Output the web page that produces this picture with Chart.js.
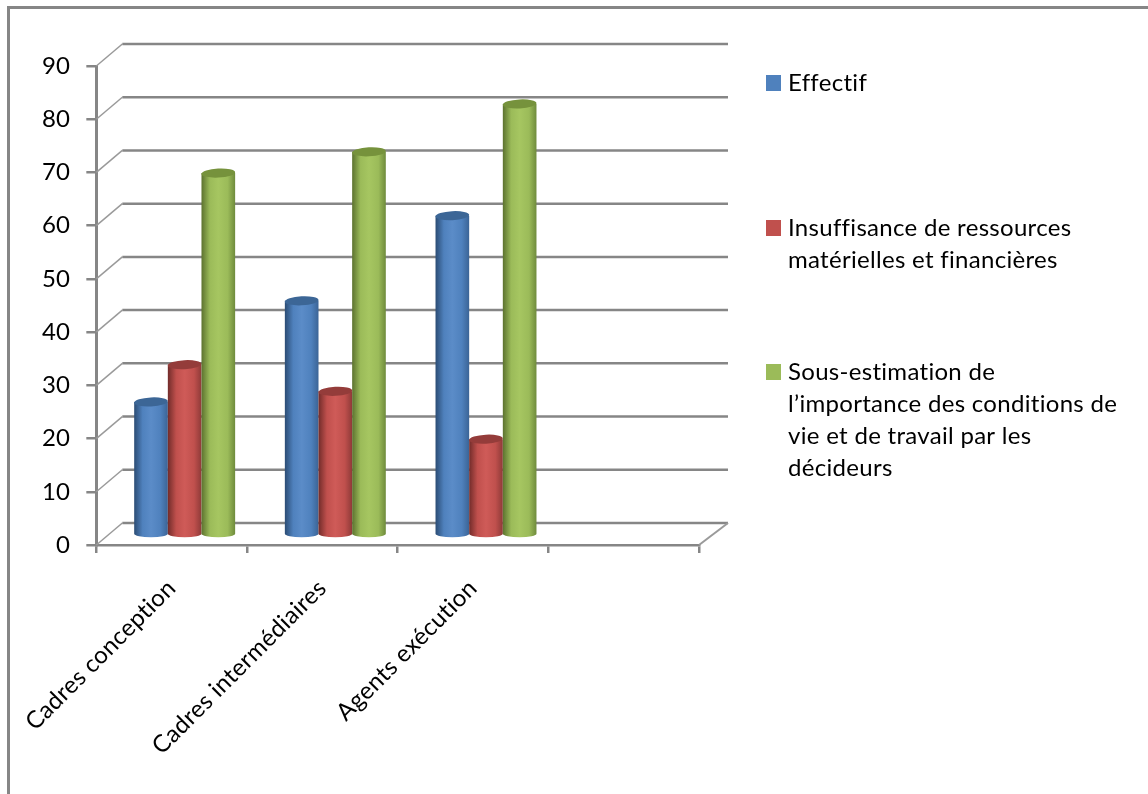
<!DOCTYPE html>
<html>
<head>
<meta charset="utf-8">
<title>Effectif</title>
<style>
html, body { margin: 0; padding: 0; background: #fff; }
canvas { display: block; }
</style>
<script src="https://cdn.jsdelivr.net/npm/chart.js@4/dist/chart.umd.min.js"></script>
</head>
<body>
<canvas id="chart" width="1148" height="794"></canvas>
<script>
var categories = ["Cadres conception", "Cadres intermédiaires", "Agents exécution", ""];
var effectif = [25, 44, 60];
var insuffisance = [32, 27, 18];
var sousEstimation = [68, 72, 81];
var yTicks = [0, 10, 20, 30, 40, 50, 60, 70, 80, 90];

var legendLines = [
    ["Effectif"],
    ["Insuffisance de ressources", "matérielles et financières"],
    ["Sous-estimation de", "l’importance des conditions de", "vie et de travail par les", "décideurs"]
];
var legendTops = [83, 228, 372];

var FONT = "Lato, 'Open Sans', sans-serif";
var AXIS = "#868686";

// shades for each cylinder: edge, body, highlight, far edge, lid
var shades = [
    ["#2b4c74", "#4f81bd", "#5b8cc8", "#3b6496", "#3c6696"],
    ["#722c2a", "#c0504d", "#cf5b58", "#8e3a38", "#943c3a"],
    ["#5c722f", "#9bbb59", "#a6c661", "#6f8b3c", "#76923c"]
];

// pseudo 3d: the wall sits behind the axes, the bars halfway between
var wallDx = 26, wallDy = -22, wallRight = 728;
var barDx = 13, barDy = -10;

var wallPlugin = {
    id: "wall",
    beforeDraw: function (chart) {
        // wider tracking, also switches off the Lato ligatures
        chart.ctx.letterSpacing = "0.3px";
    },
    beforeDatasetsDraw: function (chart) {
        var c = chart.ctx, y = chart.scales.y, area = chart.chartArea;
        c.save();
        // outer frame
        c.strokeStyle = AXIS;
        c.lineWidth = 3;
        c.beginPath();
        c.moveTo(8.5, 794);
        c.lineTo(8.5, 7.5);
        c.lineTo(1148, 7.5);
        c.stroke();
        // grid lines on the back wall, with their side wall returns
        yTicks.forEach(function (v) {
            var py = y.getPixelForValue(v);
            c.strokeStyle = "#9a9a9a";
            c.lineWidth = 1.5;
            c.beginPath();
            c.moveTo(area.left, py);
            c.lineTo(area.left + wallDx, py + wallDy);
            c.stroke();
            c.strokeStyle = AXIS;
            c.lineWidth = 2.5;
            c.beginPath();
            c.moveTo(area.left + wallDx, py + wallDy);
            c.lineTo(wallRight, py + wallDy);
            c.stroke();
        });
        // floor edge on the right
        c.strokeStyle = "#9a9a9a";
        c.lineWidth = 2;
        c.beginPath();
        c.moveTo(area.right, area.bottom);
        c.lineTo(wallRight, y.getPixelForValue(0) + wallDy);
        c.stroke();
        c.restore();
    }
};

function drawCylinder(c, bar, colors) {
    var w = bar.width, r = w / 2, ry = 4.5, tilt = -0.05;
    var x = bar.x + barDx, top = bar.y + barDy, base = bar.base + barDy;
    var g = c.createLinearGradient(x - r, 0, x + r, 0);
    g.addColorStop(0, colors[0]);
    g.addColorStop(0.25, colors[1]);
    g.addColorStop(0.5, colors[2]);
    g.addColorStop(0.78, colors[1]);
    g.addColorStop(1, colors[3]);
    c.fillStyle = g;
    c.beginPath();
    c.moveTo(x - r, top);
    c.lineTo(x - r, base);
    c.ellipse(x, base, r, 3.5, 0, Math.PI, 0, true);
    c.lineTo(x + r, top);
    c.closePath();
    c.fill();
    c.fillStyle = colors[4];
    c.beginPath();
    c.ellipse(x, top, r, ry, tilt, 0, Math.PI * 2);
    c.fill();
}

var cylinderPlugin = {
    id: "cylinders",
    afterDatasetsDraw: function (chart) {
        var c = chart.ctx;
        c.save();
        chart.data.datasets.forEach(function (ds, i) {
            chart.getDatasetMeta(i).data.forEach(function (bar) {
                if (bar.skip) return;
                drawCylinder(c, bar, shades[i]);
            });
        });
        c.restore();
    }
};

var sideLegend = {
    id: "sideLegend",
    afterDraw: function (chart) {
        var c = chart.ctx;
        c.save();
        c.font = "24px " + FONT;
        c.textBaseline = "middle";
        c.textAlign = "left";
        legendLines.forEach(function (lines, i) {
            c.fillStyle = shades[i][1];
            c.fillRect(766, legendTops[i] - 8, 15, 16);
            c.fillStyle = "#000";
            lines.forEach(function (line, n) {
                c.fillText(line, 788, legendTops[i] + n * 32);
            });
        });
        c.restore();
    }
};

var ctx = document.getElementById("chart");
var myChart = new Chart(ctx, {
    type: "bar",
    data: {
        labels: categories,
        datasets: [
            { label: "Effectif", data: effectif, backgroundColor: "transparent" },
            { label: "Insuffisance de ressources matérielles et financières", data: insuffisance, backgroundColor: "transparent" },
            { label: "Sous-estimation de l’importance des conditions de vie et de travail par les décideurs", data: sousEstimation, backgroundColor: "transparent" }
        ]
    },
    plugins: [wallPlugin, cylinderPlugin, sideLegend],
    options: {
        responsive: false,
        animation: false,
        layout: { padding: { top: 66, right: 449, left: 0, bottom: 0 } },
        categoryPercentage: 0.67,
        barPercentage: 1,
        plugins: { legend: { display: false }, tooltip: { enabled: false } },
        scales: {
            x: {
                afterFit: function (scale) { scale.height = 249; },
                grid: { drawOnChartArea: false, color: AXIS, lineWidth: 2.5, tickLength: 8, offset: true },
                border: { color: AXIS, width: 2.5 },
                ticks: {
                    color: "#000",
                    autoSkip: false,
                    minRotation: 45,
                    maxRotation: 45,
                    padding: 21,
                    font: { family: FONT, size: 24 }
                }
            },
            y: {
                min: 0,
                max: 90,
                afterFit: function (scale) { scale.width = 96; },
                afterBuildTicks: function (scale) {
                    scale.ticks = yTicks.map(function (v) { return { value: v }; });
                },
                grid: { drawOnChartArea: false, color: AXIS, lineWidth: 2.5, tickLength: 10 },
                border: { color: AXIS, width: 3 },
                ticks: { color: "#000", padding: 16, font: { family: FONT, size: 24 } }
            }
        }
    }
});
</script>
</body>
</html>
